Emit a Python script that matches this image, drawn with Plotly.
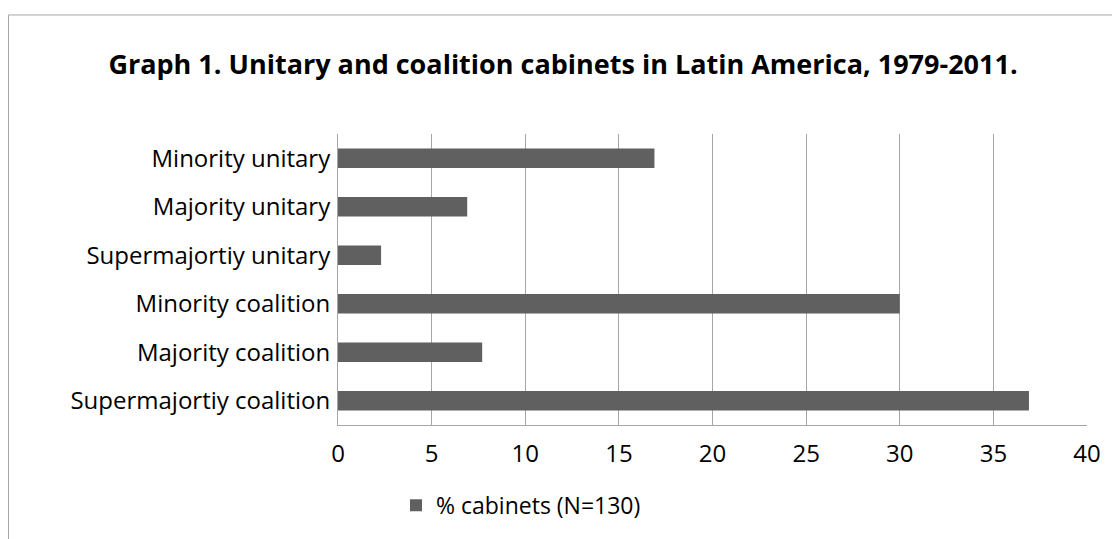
import plotly.graph_objects as go

# Cabinet types, listed bottom to top as drawn on the category axis
categories = [
    "Supermajortiy coalition",
    "Majority coalition",
    "Minority coalition",
    "Supermajortiy unitary",
    "Majority unitary",
    "Minority unitary",
]
share_pct = [36.9, 7.7, 30.0, 2.3, 6.9, 16.9]
x_ticks = [0, 5, 10, 15, 20, 25, 30, 35, 40]

W, H = 1112, 539
ML, MR, MT, MB = 338, 25, 134, 108
pw = W - ML - MR
ph = H - MT - MB

def px_x(p):
    return (p - ML) / pw

def px_y(p):
    return (H - MB - p) / ph

FONT = "Open Sans"
BAR = "#606060"
GRID = "#a6a6a6"

fig = go.Figure(
    go.Bar(
        x=share_pct,
        y=categories,
        orientation="h",
        marker=dict(color=BAR, line=dict(width=0)),
        name="% cabinets (N=130)",
        showlegend=True,
    )
)

fig.update_layout(
    width=W,
    height=H,
    margin=dict(l=ML, r=MR, t=MT, b=MB, pad=0),
    paper_bgcolor="white",
    plot_bgcolor="white",
    bargap=0.6,
    font=dict(family=FONT, color="#000000"),
    title=dict(
        text="<b>Graph 1. Unitary and coalition cabinets in Latin America, 1979-2011.</b>",
        x=px_x(563),
        xref="paper",
        xanchor="center",
        y=1 - 65 / H,
        yanchor="middle",
        font=dict(family=FONT, size=27, color="#000000"),
    ),
    xaxis=dict(
        range=[0, 40],
        tickvals=x_ticks,
        ticktext=[str(v) for v in x_ticks],
        showgrid=True,
        gridcolor=GRID,
        gridwidth=1,
        zeroline=False,
        showline=True,
        linecolor=GRID,
        linewidth=1,
        mirror=False,
        ticks="outside",
        ticklen=7,
        tickcolor="rgba(0,0,0,0)",
        tickfont=dict(family=FONT, size=24, color="#000000"),
        fixedrange=True,
    ),
    yaxis=dict(
        categoryorder="array",
        categoryarray=categories,
        showgrid=False,
        zeroline=False,
        showline=True,
        linecolor=GRID,
        linewidth=1,
        ticks="outside",
        ticklen=2,
        tickcolor="rgba(0,0,0,0)",
        tickfont=dict(family=FONT, size=24, color="#000000"),
        fixedrange=True,
    ),
    legend=dict(
        orientation="h",
        x=px_x(396),
        xanchor="left",
        y=px_y(513),
        yanchor="middle",
        font=dict(family=FONT, size=23, color="#000000"),
        bgcolor="rgba(0,0,0,0)",
        itemwidth=30,
    ),
    shapes=[
        dict(
            type="rect",
            xref="paper",
            yref="paper",
            x0=px_x(8.5),
            x1=px_x(W + 20),
            y0=px_y(H + 20),
            y1=px_y(12.5),
            line=dict(color="#a6a6a6", width=1),
            fillcolor="rgba(0,0,0,0)",
            layer="below",
        )
    ],
)

fig.write_html("out.html")
